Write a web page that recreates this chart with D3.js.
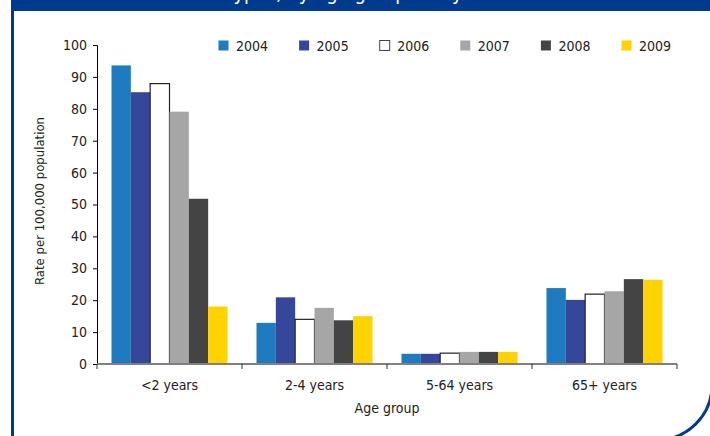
<!DOCTYPE html>
<html>
<head>
<meta charset="utf-8">
<script src="https://cdn.jsdelivr.net/npm/d3@7"></script>
<style>
  body { margin: 0; background: #fff; }
  svg text { font-family: "DejaVu Sans Condensed", "DejaVu Sans", sans-serif; }
</style>
</head>
<body>
<div id="chart" style="width:710px;height:436px;"></div>
<script>
const ageGroups = ["<2 years", "2-4 years", "5-64 years", "65+ years"];
const years = ["2004", "2005", "2006", "2007", "2008", "2009"];
const rates = {
  "2004": [93.6, 12.9, 3.2, 23.8],
  "2005": [85.2, 20.9, 3.2, 20.1],
  "2006": [87.9, 14.0, 3.4, 21.9],
  "2007": [79.1, 17.6, 3.8, 22.8],
  "2008": [51.8, 13.7, 3.8, 26.6],
  "2009": [18.0, 15.0, 3.8, 26.4]
};
const yTicks = [0, 10, 20, 30, 40, 50, 60, 70, 80, 90, 100];
const yearColors = ["#1f7bbf", "#35479a", "#ffffff", "#a6a6a6", "#444444", "#ffd200"];

function drawChart(containerId) {
  const width = 710, height = 436;
  const margin = { top: 45, right: 33, bottom: 72, left: 97 };
  const iW = width - margin.left - margin.right;
  const iH = height - margin.top - margin.bottom;

  const root = d3.select(`#${containerId}`)
    .append("svg")
    .attr("width", width)
    .attr("height", height);

  // frame: header band (title mostly above the crop), left rule, rounded corner
  root.append("rect").attr("x", 11).attr("y", 0).attr("width", width).attr("height", 11).style("fill", "#003a8c");
  root.append("text")
    .attr("x", 340).attr("y", 0)
    .attr("text-anchor", "middle")
    .style("font-size", "20px")
    .style("fill", "#fff")
    .text("serotypes, by age group and year");
  root.append("line").attr("x1", 12.5).attr("x2", 12.5).attr("y1", 0).attr("y2", height)
    .style("stroke", "#003a8c").style("stroke-width", 3);
  root.append("path")
    .attr("d", "M712,0 V385 A55,55 0 0 1 657,440")
    .style("fill", "none").style("stroke", "#003a8c").style("stroke-width", 3);

  const svg = root.append("g").attr("transform", `translate(${margin.left},${margin.top})`);

  const x0 = d3.scaleBand().domain(ageGroups).range([0, iW]).paddingInner(0.2).paddingOuter(0.1);
  const x1 = d3.scaleBand().domain(years).range([0, x0.bandwidth()]);
  const y = d3.scaleLinear().domain([0, 100]).range([iH, 0]);
  const color = d3.scaleOrdinal().domain(years).range(yearColors);

  // bars
  const groups = svg.selectAll("g.grp")
    .data(ageGroups)
    .join("g")
    .attr("class", "grp")
    .attr("transform", d => `translate(${x0(d)},0)`);

  groups.selectAll("rect")
    .data((g, i) => years.map(yr => ({ year: yr, value: rates[yr][i] })))
    .join("rect")
    .attr("x", d => x1(d.year))
    .attr("y", d => y(d.value))
    .attr("width", x1.bandwidth())
    .attr("height", d => iH - y(d.value))
    .style("fill", d => color(d.year))
    .style("stroke", d => d.year === "2006" ? "#222" : "none")
    .style("stroke-width", 1.2);

  // y axis
  svg.append("g")
    .call(d3.axisLeft(y).tickValues(yTicks).tickSize(4).tickPadding(6))
    .call(g => g.select(".domain").attr("d", `M-4,0.5H0.5V${iH}`).style("stroke", "#000"))
    .call(g => g.selectAll("text").style("font-size", "14px").style("fill", "#222"));

  // x axis with boundary ticks
  const xa = svg.append("g").attr("transform", `translate(0,${iH})`);
  xa.append("line").attr("x1", 0).attr("x2", iW).attr("y1", 0).attr("y2", 0)
    .style("stroke", "#808080").style("stroke-width", 2);
  const step = iW / ageGroups.length;
  xa.selectAll("line.tk")
    .data(d3.range(ageGroups.length + 1))
    .join("line")
    .attr("class", "tk")
    .attr("x1", d => d * step).attr("x2", d => d * step)
    .attr("y1", 0).attr("y2", 5)
    .style("stroke", "#333");
  xa.selectAll("text")
    .data(ageGroups)
    .join("text")
    .attr("x", d => x0(d) + x0.bandwidth() / 2)
    .attr("y", 26)
    .attr("text-anchor", "middle")
    .style("font-size", "14px")
    .style("fill", "#222")
    .text(d => d);

  svg.append("text")
    .attr("x", iW / 2)
    .attr("y", iH + 49)
    .attr("text-anchor", "middle")
    .style("font-size", "14px")
    .style("fill", "#222")
    .text("Age group");

  svg.append("text")
    .attr("transform", "rotate(-90)")
    .attr("x", -156)
    .attr("y", -53)
    .attr("text-anchor", "middle")
    .style("font-size", "13px")
    .style("fill", "#222")
    .text("Rate per 100,000 population");

  // legend
  const legend = root.append("g").attr("transform", "translate(218,40)");
  const item = legend.selectAll("g")
    .data(years)
    .join("g")
    .attr("transform", (d, i) => `translate(${i * 80.6},0)`);
  item.append("rect")
    .attr("x", 0.5).attr("y", 0.5)
    .attr("width", 10).attr("height", 10)
    .style("fill", d => color(d))
    .style("stroke", d => d === "2006" ? "#444" : "none");
  item.append("text")
    .attr("x", 18).attr("y", 10.5)
    .style("font-size", "14px")
    .style("fill", "#222")
    .text(d => d);
}

drawChart("chart");
</script>
</body>
</html>
